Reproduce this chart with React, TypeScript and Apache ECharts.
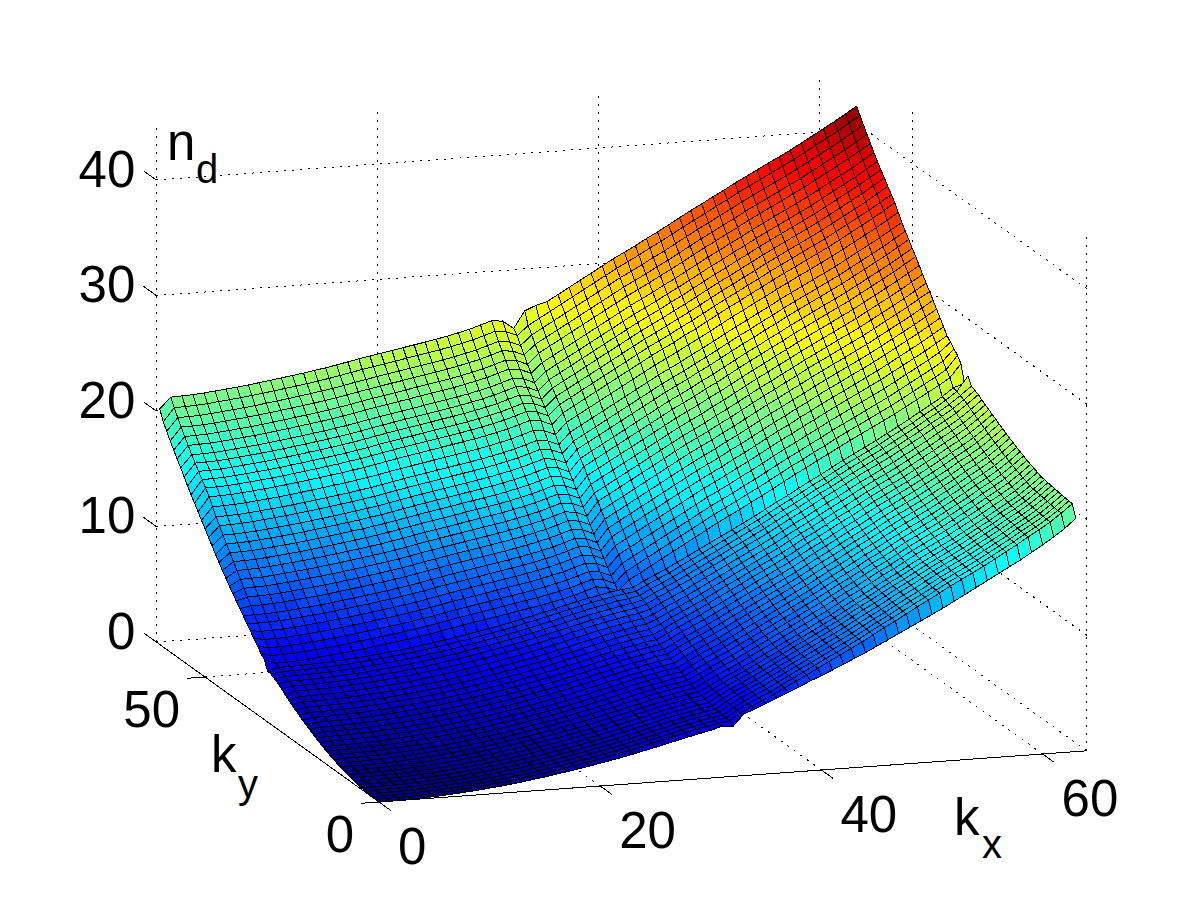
import React, { useEffect, useRef } from "react";
import * as echarts from "echarts";

// Surface heights are estimated from the picture: the mesh is rebuilt from height profiles read along
// its axes in each quadrant and along its two near edges, not from a measured 64x64 table.
const kxProfileLowKy = [
  0, .01, .02, .05, .08, .13, .19, .26, .34, .43,
  .53, .64, .76, .89, 1.03, 1.18, 1.34, 1.51, 1.68, 1.86,
  2.05, 2.25, 2.45, 2.67, 2.9, 3.13, 3.37, 3.6, 3.85, 4.05,
  4.25, 4.45, 4.6, 4.9, 5.4, 5.85, 6.3, 6.8, 7.3, 7.8,
  8.3, 8.8, 9.3, 9.8, 10.3, 10.85, 11.4, 11.9, 12.45, 13,
  13.5, 14.05, 14.6, 15.1, 15.6, 16.1, 16.65, 17.2, 17.75, 18.35,
  18.9, 19.5, 20.2, 20.95,
];
const kxProfileHighKy = [
  0, .05, .08, .12, .2, .3, .4, .5, .62, .75,
  .88, 1.02, 1.16, 1.3, 1.46, 1.62, 1.8, 2, 2.18, 2.36,
  2.53, 2.7, 2.88, 3.05, 3.22, 3.4, 3.6, 3.82, 4.05, 4.35,
  4.65, 4.55, 4.15, 4.85, 5.4, 5.95, 6.5, 7.05, 7.6, 8.15,
  8.7, 9.25, 9.75, 10.25, 10.8, 11.3, 11.85, 12.4, 12.95, 13.45,
  14, 14.5, 15.05, 15.55, 16.05, 16.55, 17.05, 17.55, 18.1, 18.65,
  19.2, 19.75, 20.35, 20.95,
];
const kyProfileLowKx = [
  0, .01, .02, .05, .09, .14, .2, .27, .35, .44,
  .54, .65, .77, .9, 1.04, 1.19, 1.35, 1.52, 1.7, 1.88,
  2.07, 2.27, 2.48, 2.7, 2.93, 3.17, 3.42, 3.68, 3.9, 4.1,
  4.3, 4.5, 4.65, 4.75, 5.2, 5.65, 6.15, 6.65, 7.15, 7.65,
  8.2, 8.75, 9.3, 9.85, 10.4, 10.95, 11.5, 12.05, 12.6, 13.2,
  13.75, 14.4, 15.05, 15.6, 16.1, 16.6, 17.1, 17.6, 18.2, 18.75,
  19.35, 19.95, 20.6, 21.3,
];
const kyProfileHighKx = [
  0, .3, .32, .36, .4, .45, .5, .55, .6, .65,
  .7, .85, .98, 1.1, 1.25, 1.4, 1.55, 1.72, 1.9, 2.07,
  2.25, 2.45, 2.65, 2.85, 3.05, 3.25, 3.45, 3.65, 3.9, 4.05,
  4.2, 4.35, 4.45, 4.95, 5.45, 5.95, 6.5, 7.05, 7.6, 8.15,
  8.7, 9.25, 9.8, 10.3, 10.85, 11.4, 11.95, 12.45, 13, 13.5,
  14.05, 14.7, 15.3, 15.8, 16.3, 16.8, 17.3, 17.8, 18.35, 18.95,
  19.5, 20.1, 20.7, 21.3,
];
const edgeAtKx0 = [
  0, .01, .02, .05, .08, .13, .19, .26, .33, .42,
  .51, .62, .73, .85, .98, 1.12, 1.27, 1.43, 1.6, 1.77,
  1.95, 2.14, 2.34, 2.55, 2.76, 2.99, 3.23, 3.47, 3.72, 3.96,
  4.17, 4.36, 4.4, 5.2, 5.55, 5.97, 6.4, 6.83, 7.25, 7.67,
  8.1, 8.52, 8.95, 9.38, 9.85, 10.3, 10.8, 11.28, 11.8, 12.3,
  12.83, 13.35, 13.87, 14.4, 14.92, 15.45, 16.02, 16.6, 17.15, 17.7,
  18.28, 18.9, 19.5, 20.4,
];
const edgeAtKy0 = [
  0, .01, .02, .05, .08, .12, .18, .25, .33, .41,
  .51, .61, .73, .85, .99, 1.13, 1.29, 1.45, 1.61, 1.79,
  1.97, 2.16, 2.35, 2.56, 2.78, 3, 3.24, 3.46, 3.7, 3.92,
  4.13, 4.4, 4.35, 5.33, 5.71, 6.1, 6.53, 6.91, 7.34, 7.78,
  8.16, 8.59, 9.02, 9.46, 9.89, 10.37, 10.85, 11.33, 11.81, 12.29,
  12.77, 13.25, 13.78, 14.3, 14.83, 15.36, 15.89, 16.42, 16.94, 17.52,
  18.1, 18.72, 19.39, 20.2,
];
// points on the far edges whose notch reads higher or lower than the profiles above: kx, ky, change
const farEdgeNotches = [
  [33, 63, 0.45],
  [32, 63, -0.3],
  [34, 63, 0.3],
  [63, 31, 0.5],
  [63, 32, -0.45],
  [63, 33, 0.55],
  [63, 34, 0.55],
  [63, 35, 0.4],
  [63, 36, 0.2],
];
const kxTicks = [0, 20, 40, 60];
const kyTicks = [0, 50];
const zTicks = [0, 10, 20, 30, 40];
const axisMax = { kx: 64, ky: 64, z: 45 };

const W = 1201;
const H = 901;
const FONT = '"Liberation Sans", Arial, sans-serif';
const KINK = 32;

const heightAt = (i: number, j: number) => {
  if (i === 0) return edgeAtKx0[j];
  if (j === 0) return edgeAtKy0[i];
  const xPart = j <= KINK ? kxProfileLowKy[i] : kxProfileHighKy[i];
  const yPart = i <= KINK ? kyProfileLowKx[j] : kyProfileHighKx[j];
  const notch = farEdgeNotches.find((p) => p[0] === i && p[1] === j);
  return xPart + yPart + (notch ? notch[2] : 0);
};

// orthographic view of the MATLAB axes box
const project = (kx: number, ky: number, z: number) => [
  379 + 11.06 * kx - 3.48 * ky,
  802 - 0.8 * kx - 2.5 * ky - 11.55 * z,
];

const clamp01 = (v: number) => Math.max(0, Math.min(1, v));
const jet = (value: number, top: number) => {
  const idx = Math.min(63, Math.max(0, Math.floor((value / top) * 64)));
  const t = (idx + 0.5) / 64;
  const r = clamp01(Math.min(4 * t - 1.5, -4 * t + 4.5));
  const g = clamp01(Math.min(4 * t - 0.5, -4 * t + 3.5));
  const b = clamp01(Math.min(4 * t + 0.5, -4 * t + 2.5));
  return `rgb(${Math.round(r * 255)},${Math.round(g * 255)},${Math.round(b * 255)})`;
};

type Seg = [number, number, number, number, number, number];

function buildOption() {
  const dotted: Seg[] = [];
  const { kx: xm, ky: ym, z: zm } = axisMax;
  kxTicks.forEach((k) => {
    dotted.push([k, ym, 0, k, ym, zm]);
    dotted.push([k, 0, 0, k, ym, 0]);
  });
  kyTicks.forEach((k) => {
    dotted.push([xm, k, 0, xm, k, zm]);
    dotted.push([0, k, 0, xm, k, 0]);
  });
  zTicks.forEach((z) => {
    dotted.push([0, ym, z, xm, ym, z]);
    dotted.push([xm, 0, z, xm, ym, z]);
  });
  dotted.push([xm, 0, 0, xm, ym, 0]);

  const solid: Seg[] = [
    [0, 0, 0, xm, 0, 0],
    [0, 0, 0, 0, ym, 0],
  ];
  kxTicks.forEach((k) => solid.push([k, 0, 0, k, -3.4, 0]));
  kyTicks.forEach((k) => solid.push([0, k, 0, -1.6, k, 0]));
  zTicks.forEach((z) => solid.push([0, ym, z, 0, ym + 3.7, z]));

  const labels: { text: string; anchor: number[]; dx: number; dy: number; align: string; size: number }[] = [];
  zTicks.forEach((z) =>
    labels.push({ text: String(z), anchor: project(0, ym, z), dx: -21, dy: -11, align: "right", size: 51 })
  );
  kyTicks.forEach((k) =>
    labels.push({ text: String(k), anchor: project(0, k, 0), dx: -25, dy: 32, align: "right", size: 51 })
  );
  kxTicks.forEach((k) =>
    labels.push({ text: String(k), anchor: project(k, 0, 0), dx: 19, dy: 44, align: "left", size: 51 })
  );
  labels.push({ text: "n", anchor: [167, 142], dx: 0, dy: 0, align: "left", size: 51 });
  labels.push({ text: "d", anchor: [196, 169], dx: 0, dy: 0, align: "left", size: 40 });
  labels.push({ text: "k", anchor: [211, 754], dx: 0, dy: 0, align: "left", size: 51 });
  labels.push({ text: "y", anchor: [238, 784], dx: 0, dy: 0, align: "left", size: 40 });
  labels.push({ text: "k", anchor: [954, 817], dx: 0, dy: 0, align: "left", size: 51 });
  labels.push({ text: "x", anchor: [982, 844], dx: 0, dy: 0, align: "left", size: 40 });

  const cells: number[][] = [];
  let top = 0;
  const n = kxProfileLowKy.length;
  for (let j = n - 1; j >= 0; j--) {
    for (let i = n - 1; i >= 0; i--) {
      top = Math.max(top, heightAt(i, j));
      if (i < n - 1 && j < n - 1) cells.push([i, j]);
    }
  }

  const segSeries = (name: string, segs: Seg[], dash: number[] | undefined) => ({
    type: "custom",
    name,
    silent: true,
    clip: false,
    coordinateSystem: "cartesian2d",
    data: segs.map((_, k) => [k, k]),
    renderItem: (params: any, api: any) => {
      const s = segs[params.dataIndex];
      const a = api.coord(project(s[0], s[1], s[2]));
      const b = api.coord(project(s[3], s[4], s[5]));
      return {
        type: "line",
        shape: { x1: a[0], y1: a[1], x2: b[0], y2: b[1] },
        style: { stroke: "#000", lineWidth: 1, lineDash: dash, fill: null },
      };
    },
  });

  return {
    animation: false,
    backgroundColor: "#fff",
    grid: { left: 0, right: 0, top: 0, bottom: 0 },
    xAxis: { type: "value", min: 0, max: W, show: false },
    yAxis: { type: "value", min: 0, max: H, inverse: true, show: false },
    series: [
      segSeries("grid", dotted, [2, 6]),
      segSeries("axes", solid, undefined),
      {
        type: "custom",
        name: "n_d",
        silent: true,
        clip: false,
        progressive: 0,
        coordinateSystem: "cartesian2d",
        data: cells,
        renderItem: (_: any, api: any) => {
          const i = api.value(0);
          const j = api.value(1);
          const corners = [
            [i, j],
            [i + 1, j],
            [i + 1, j + 1],
            [i, j + 1],
          ].map(([a, b]) => api.coord(project(a, b, heightAt(a, b))));
          return {
            type: "polygon",
            shape: { points: corners },
            style: { fill: jet(heightAt(i, j), top), stroke: "#000", lineWidth: 1 },
          };
        },
      },
      {
        type: "custom",
        name: "labels",
        silent: true,
        clip: false,
        coordinateSystem: "cartesian2d",
        data: labels.map((_, k) => [k, k]),
        renderItem: (params: any, api: any) => {
          const l = labels[params.dataIndex];
          const p = api.coord([l.anchor[0] + l.dx, l.anchor[1] + l.dy]);
          return {
            type: "text",
            x: p[0],
            y: p[1],
            style: {
              text: l.text,
              fontFamily: FONT,
              fontSize: l.size,
              fill: "#000",
              align: l.align,
              verticalAlign: "middle",
            },
          };
        },
      },
    ],
  };
}

export default function App() {
  const ref = useRef<HTMLDivElement>(null);
  useEffect(() => {
    const chart = echarts.init(ref.current!, undefined, { renderer: "svg", width: W, height: H });
    chart.setOption(buildOption() as any);
    return () => chart.dispose();
  }, []);
  return (
    <>
      <style>{`#surface-chart svg path { shape-rendering: crispEdges; }`}</style>
      <div
        id="surface-chart"
        ref={ref}
        style={{ position: "absolute", left: 0, top: 0, width: W, height: H, background: "#fff" }}
      />
    </>
  );
}
